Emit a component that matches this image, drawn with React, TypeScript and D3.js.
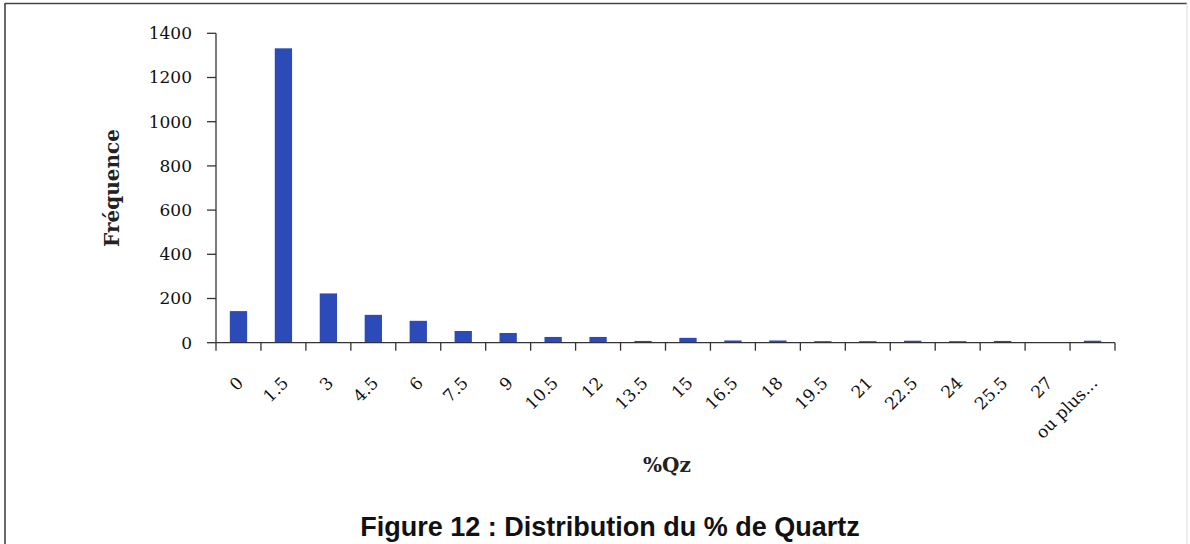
import React from "react";
import * as d3 from "d3";

const categories = ["0", "1.5", "3", "4.5", "6", "7.5", "9", "10.5", "12", "13.5", "15", "16.5", "18", "19.5", "21", "22.5", "24", "25.5", "27", "ou plus..."];
const frequencies = [143, 1332, 223, 126, 99, 53, 44, 26, 26, 8, 22, 10, 10, 7, 7, 9, 7, 8, 0, 9];
const yTicks = [0, 200, 400, 600, 800, 1000, 1200, 1400];
const yTitle = "Fréquence";
const xTitle = "%Qz";
const caption = "Figure 12 : Distribution du % de Quartz";

const W = 1190;
const H = 544;
const plot = { left: 216, right: 1115, top: 33.3, bottom: 342.7 };
const barColor = "#2c4ab8";
const axisColor = "#333";
const serif = "'DejaVu Serif', serif";

export default function App() {
  const x = d3.scaleBand<string>().domain(categories).range([plot.left, plot.right]).padding(0);
  const y = d3.scaleLinear().domain([0, 1400]).range([plot.bottom, plot.top]);
  const bw = x.bandwidth();
  const barW = bw * 0.385;
  const boundaries = d3.range(categories.length + 1).map((i) => plot.left + i * bw);

  return (
    <svg
      width={W}
      height={H}
      style={{ position: "absolute", left: 0, top: 0, background: "#fff" }}
    >
      {/* frame */}
      <line x1={5} y1={3.5} x2={1187} y2={3.5} stroke="#444" strokeWidth={1.6} />
      <line x1={5} y1={3} x2={5} y2={H} stroke="#444" strokeWidth={1.6} />
      <line x1={1187} y1={3} x2={1187} y2={H} stroke="#ddd" strokeWidth={1} />

      {/* bars */}
      {categories.map((c, i) => (
        <rect
          key={c}
          x={(x(c) as number) + (bw - barW) / 2}
          y={y(frequencies[i])}
          width={barW}
          height={plot.bottom - y(frequencies[i])}
          fill={barColor}
        />
      ))}

      {/* y axis */}
      <line x1={plot.left} y1={plot.top} x2={plot.left} y2={plot.bottom} stroke={axisColor} strokeWidth={1.3} />
      {yTicks.map((t) => (
        <g key={t}>
          <line x1={plot.left - 9} x2={plot.left} y1={y(t)} y2={y(t)} stroke={axisColor} strokeWidth={1.3} />
          <text
            x={192}
            y={y(t)}
            dy="0.35em"
            textAnchor="end"
            fontFamily={serif}
            fontSize={17}
            fill="#111"
          >
            {t}
          </text>
        </g>
      ))}

      {/* x axis */}
      <line x1={plot.left} y1={plot.bottom} x2={plot.right} y2={plot.bottom} stroke={axisColor} strokeWidth={1.3} />
      {boundaries.map((bx, i) => (
        <line key={i} x1={bx} x2={bx} y1={plot.bottom} y2={plot.bottom + 8} stroke={axisColor} strokeWidth={1.3} />
      ))}
      {categories.map((c) => {
        const cx = (x(c) as number) + bw / 2 + 6;
        const cy = 384;
        return (
          <text
            key={c}
            x={cx}
            y={cy}
            textAnchor="end"
            fontFamily={serif}
            fontSize={17}
            fill="#111"
            transform={`rotate(-45 ${cx} ${cy})`}
          >
            {c}
          </text>
        );
      })}

      {/* axis titles */}
      <text
        x={667}
        y={472}
        textAnchor="middle"
        fontFamily={serif}
        fontWeight="bold"
        fontSize={20}
        fill="#222"
      >
        {xTitle}
      </text>
      <text
        transform={`translate(119 188) rotate(-90)`}
        textAnchor="middle"
        fontFamily={serif}
        fontWeight="bold"
        fontSize={20}
        fill="#222"
      >
        {yTitle}
      </text>

      {/* caption */}
      <text
        x={610}
        y={536}
        textAnchor="middle"
        fontFamily="'Liberation Sans', Arial, sans-serif"
        fontWeight="bold"
        fontSize={27}
        fill="#111"
      >
        {caption}
      </text>
    </svg>
  );
}
